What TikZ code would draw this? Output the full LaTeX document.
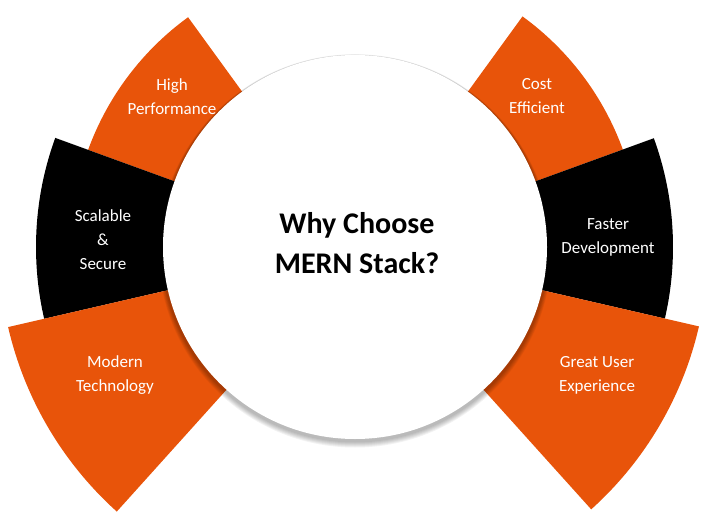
\documentclass[tikz,border=0pt]{standalone}
\usepackage{fontspec}
\setmainfont{Carlito}
\usetikzlibrary{calc}
\definecolor{mernorange}{RGB}{232,84,10}
\tikzset{
    lbl/.style={text=white,align=center,font=\fontsize{17}{24}\selectfont},
}
\begin{document}
\begin{tikzpicture}[x=1pt,y=-1pt]
    \useasboundingbox (0,0) rectangle (701,524);
    \coordinate (c) at (355,247);
    % sectors: start angle / end angle / outer radius / colour
    \foreach \a/\b/\r/\col in {126/160/284/mernorange,160/193/319/black,193/228/356/mernorange,
                               20/54/285/mernorange,-13/20/318/black,-48/-13/353/mernorange}{
        \fill[\col] (c) -- ($(c)+(-\a:\r)$) arc[start angle=-\a,end angle=-\b,radius=\r] -- cycle;
    }
    % shadow of the circle
    \foreach \i in {1,...,6}{
        \fill[black,opacity=0.05] ($(c)+(0,1.5+0.4*\i)$) circle (193+0.6*\i);
    }
    \fill[white] (c) circle (192);
    \node[font=\fontsize{30}{40}\selectfont\bfseries,align=center] (title) at (357,243) {Why Choose\\MERN Stack?};
    \node[lbl] (perf) at (172,97) {High\\Performance};
    \node[lbl] (scal) at (103,240) {Scalable\\\&\\Secure};
    \node[lbl] (modern) at (115,375) {Modern\\Technology};
    \node[lbl] (cost) at (537,96) {Cost\\Efficient};
    \node[lbl] (fast) at (608,237) {Faster\\Development};
    \node[lbl] (ux) at (597,375) {Great User\\Experience};
\end{tikzpicture}
\end{document}
